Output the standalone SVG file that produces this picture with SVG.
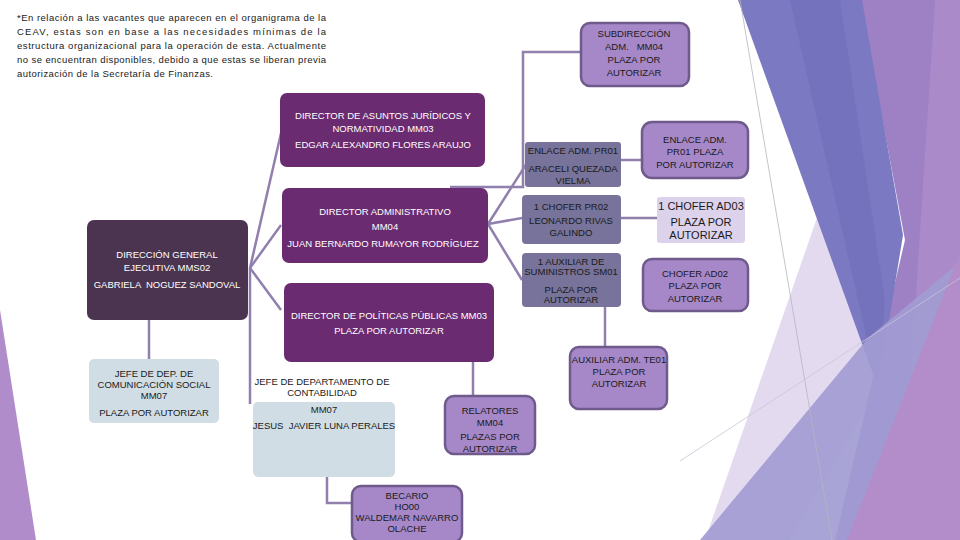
<svg xmlns="http://www.w3.org/2000/svg" width="960" height="540" viewBox="0 0 960 540">
<style>
text{font-family:"Liberation Sans",Arial,sans-serif;font-size:9.5px;text-anchor:middle}
.w{fill:#ffffff}
.k{fill:#1a1a1a}
.note{fill:#1a1a1a;text-anchor:start;font-size:9.5px}
.dir{fill:#6b2b70}
.gen{fill:#4b3450}
.lp{fill:#a688c9;stroke:#6f5a8c;stroke-width:2.5}
.st{fill:#77739b}
.lb{fill:#d1dde4}
.pl{fill:#ddd2eb}
.c{stroke:#9180ad;stroke-width:2.5;fill:none}
</style>
<rect width="960" height="540" fill="#ffffff"/>
<g id="background">
<polygon points="0,310 0,540 36,540" fill="#b08ccb"/>
<polygon points="705,540 818,215 878,388 790,540" fill="#e4daef"/>
<polygon points="860,0 960,0 960,540 835,540 905,240" fill="#9e80c4"/>
<polygon points="935,0 960,0 960,540 900,540" fill="#ad8ccb" opacity="0.8"/>
<polygon points="738,0 862,0 903,235 878,388" fill="#7b79c1"/>
<polygon points="790,0 840,0 885,300 878,388" fill="#706ebb" opacity="0.6"/>
<polygon points="700,540 868,338 960,262 960,540" fill="#a29cd3" opacity="0.92"/>
<polygon points="960,253 960,540 847,540" fill="#b28dca"/>
<line x1="740" y1="0" x2="832" y2="540" stroke="#b5b5c0" stroke-width="0.8"/>
<line x1="680" y1="461" x2="960" y2="278" stroke="#c8c4d8" stroke-width="0.8"/>
</g>
<g id="note">
<text class="note" x="17" y="21" textLength="309" lengthAdjust="spacing">*En relación a las vacantes que aparecen en el organigrama de la</text>
<text class="note" x="17" y="35" textLength="309" lengthAdjust="spacing">CEAV, estas son en base a las necesidades mínimas de la</text>
<text class="note" x="17" y="49" textLength="309" lengthAdjust="spacing">estructura organizacional para la operación de esta. Actualmente</text>
<text class="note" x="17" y="63" textLength="309" lengthAdjust="spacing">no se encuentran disponibles, debido a que estas se liberan previa</text>
<text class="note" x="17" y="77" textLength="196" lengthAdjust="spacing">autorización de la Secretaría de Finanzas.</text>
</g>
<g id="connectors">
<polyline class="c" points="581,52 523,52 523,187 450,187"/>
<line class="c" x1="250" y1="268" x2="282" y2="129"/>
<line class="c" x1="250" y1="268" x2="281" y2="225"/>
<line class="c" x1="250" y1="268" x2="281" y2="310"/>
<line class="c" x1="250" y1="268" x2="250" y2="404"/>
<line class="c" x1="149" y1="320" x2="149" y2="360"/>
<line class="c" x1="488" y1="224" x2="527" y2="163"/>
<line class="c" x1="488" y1="224" x2="522" y2="218"/>
<line class="c" x1="488" y1="224" x2="522" y2="280"/>
<line class="c" x1="620" y1="160" x2="643" y2="160"/>
<line class="c" x1="620" y1="218" x2="657" y2="218" stroke-width="3"/>
<line class="c" x1="605" y1="307" x2="605" y2="347"/>
<line class="c" x1="473" y1="362" x2="473" y2="396"/>
<polyline class="c" points="327,477 327,503 353,503"/>
</g>
<g id="subdireccion">
<rect class="lp" x="581" y="23" width="108" height="63" rx="9"/>
<text class="k" x="634" y="37">SUBDIRECCIÓN</text>
<text class="k" x="634" y="50" xml:space="preserve">ADM.   MM04</text>
<text class="k" x="634" y="63">PLAZA POR</text>
<text class="k" x="634" y="76">AUTORIZAR</text>
</g>
<g id="direccion-general">
<rect class="gen" x="87" y="220" width="161" height="100" rx="7"/>
<text class="w" x="167" y="258">DIRECCIÓN GENERAL</text>
<text class="w" x="167" y="271">EJECUTIVA MMS02</text>
<text class="w" x="167" y="288" xml:space="preserve">GABRIELA  NOGUEZ SANDOVAL</text>
</g>
<g id="director-juridicos">
<rect class="dir" x="280" y="93" width="205" height="74" rx="7"/>
<text class="w" x="383" y="119">DIRECTOR DE ASUNTOS JURÍDICOS Y</text>
<text class="w" x="383" y="132">NORMATIVIDAD MM03</text>
<text class="w" x="383" y="148">EDGAR ALEXANDRO FLORES ARAUJO</text>
</g>
<g id="director-administrativo">
<rect class="dir" x="282" y="188" width="206" height="75" rx="7"/>
<text class="w" x="385" y="215">DIRECTOR ADMINISTRATIVO</text>
<text class="w" x="385" y="230">MM04</text>
<text class="w" x="383" y="247">JUAN BERNARDO RUMAYOR RODRÍGUEZ</text>
</g>
<g id="director-politicas">
<rect class="dir" x="284" y="283" width="210" height="79" rx="7"/>
<text class="w" x="389" y="319">DIRECTOR DE POLÍTICAS PÚBLICAS MM03</text>
<text class="w" x="389" y="334">PLAZA POR AUTORIZAR</text>
</g>
<g id="enlace-adm">
<rect class="st" x="525" y="142" width="96" height="45" rx="3"/>
<text class="k" x="573" y="154">ENLACE ADM. PR01</text>
<text class="k" x="573" y="172">ARACELI QUEZADA</text>
<text class="k" x="573" y="184">VIELMA</text>
</g>
<g id="chofer-pr02">
<rect class="st" x="522" y="195" width="99" height="49" rx="4"/>
<text class="k" x="571" y="210">1 CHOFER PR02</text>
<text class="k" x="571" y="224">LEONARDO RIVAS</text>
<text class="k" x="571" y="236">GALINDO</text>
</g>
<g id="auxiliar-suministros">
<rect class="st" x="522" y="253" width="99" height="54" rx="4"/>
<text class="k" x="571" y="265">1 AUXILIAR DE</text>
<text class="k" x="571" y="275">SUMINISTROS SM01</text>
<text class="k" x="571" y="293">PLAZA POR</text>
<text class="k" x="571" y="303">AUTORIZAR</text>
</g>
<g id="enlace-plaza">
<rect class="lp" x="642" y="122" width="106" height="56" rx="10" stroke-width="3"/>
<text class="k" x="695" y="143">ENLACE ADM.</text>
<text class="k" x="695" y="155">PR01 PLAZA</text>
<text class="k" x="695" y="168">POR AUTORIZAR</text>
</g>
<g id="chofer-ad03">
<rect class="pl" x="657" y="197" width="88" height="46" rx="3"/>
<text class="k" x="701" y="210" style="font-size:11px">1 CHOFER AD03</text>
<text class="k" x="701" y="226" style="font-size:11px">PLAZA POR</text>
<text class="k" x="701" y="239" style="font-size:11px">AUTORIZAR</text>
</g>
<g id="chofer-ad02">
<rect class="lp" x="643" y="259" width="105" height="52" rx="9" stroke-width="3"/>
<text class="k" x="695" y="277">CHOFER AD02</text>
<text class="k" x="695" y="289">PLAZA POR</text>
<text class="k" x="695" y="302">AUTORIZAR</text>
</g>
<g id="auxiliar-adm">
<rect class="lp" x="570" y="347" width="97" height="62" rx="9"/>
<text class="k" x="619" y="363">AUXILIAR ADM. TE01</text>
<text class="k" x="619" y="375">PLAZA POR</text>
<text class="k" x="619" y="387">AUTORIZAR</text>
</g>
<g id="jefe-comunicacion">
<rect class="lb" x="89" y="359" width="130" height="64" rx="5"/>
<text class="k" x="154" y="377">JEFE DE DEP. DE</text>
<text class="k" x="154" y="388">COMUNICACIÓN SOCIAL</text>
<text class="k" x="154" y="399">MM07</text>
<text class="k" x="154" y="416">PLAZA POR AUTORIZAR</text>
</g>
<g id="jefe-contabilidad">
<text class="k" x="322" y="385">JEFE DE DEPARTAMENTO DE</text>
<text class="k" x="322" y="396">CONTABILIDAD</text>
<rect class="lb" x="253" y="402" width="142" height="75" rx="5"/>
<text class="k" x="324" y="413">MM07</text>
<text class="k" x="324" y="429" xml:space="preserve">JESUS  JAVIER LUNA PERALES</text>
</g>
<g id="relatores">
<rect class="lp" x="445" y="396" width="90" height="58" rx="9"/>
<text class="k" x="490" y="414">RELATORES</text>
<text class="k" x="490" y="426">MM04</text>
<text class="k" x="490" y="440">PLAZAS POR</text>
<text class="k" x="490" y="452">AUTORIZAR</text>
</g>
<g id="becario">
<rect class="lp" x="352" y="486" width="110" height="56" rx="9"/>
<text class="k" x="407" y="499">BECARIO</text>
<text class="k" x="407" y="510">HO00</text>
<text class="k" x="407" y="521">WALDEMAR NAVARRO</text>
<text class="k" x="407" y="532">OLACHE</text>
</g>
</svg>
